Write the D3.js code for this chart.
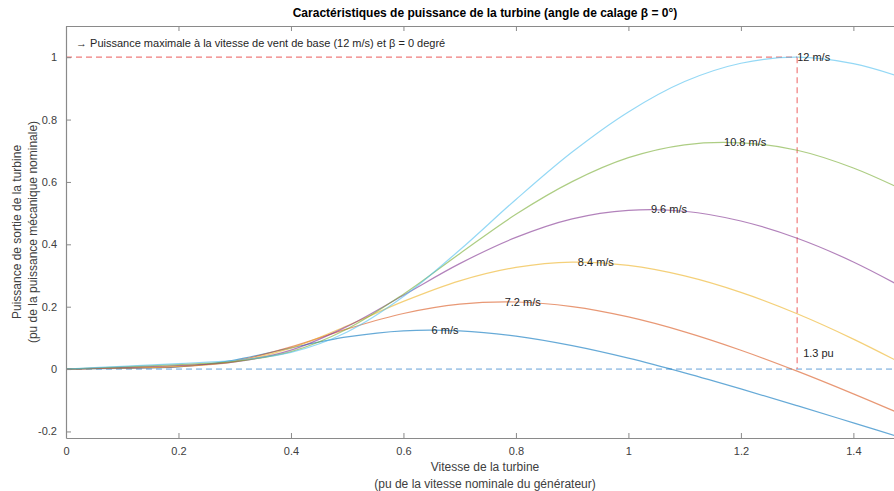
<!DOCTYPE html>
<html>
<head>
<meta charset="utf-8">
<script src="https://cdn.jsdelivr.net/npm/d3@7"></script>
<style>
  body { margin: 0; background: #fff; }
  text { font-family: "Liberation Sans", Arial, sans-serif; }
</style>
</head>
<body>
<script>
// vitesse de la turbine (pu) ou les courbes sont lues
var vitesseTurbine = [0, 0.1, 0.2, 0.3, 0.4, 0.5, 0.6, 0.7, 0.8, 0.9, 1.0, 1.1, 1.2, 1.3, 1.4, 1.5];

// puissance de sortie (pu) pour chaque vitesse de vent
var p6  = [0, 0.0022, 0.0067, 0.0290, 0.0680, 0.1031, 0.1226, 0.1224, 0.1057, 0.0751, 0.0350, -0.0121, -0.0635, -0.1174, -0.1725, -0.2278];
var p72 = [0, 0.0032, 0.0076, 0.0257, 0.0711, 0.1287, 0.1781, 0.2080, 0.2150, 0.2003, 0.1672, 0.1194, 0.0605, -0.0066, -0.0794, -0.1559];
var p84 = [0, 0.0043, 0.0093, 0.0232, 0.0671, 0.1389, 0.2169, 0.2828, 0.3259, 0.3429, 0.3322, 0.2986, 0.2458, 0.1772, 0.0960, 0.0051];
var p96 = [0, 0.0056, 0.0114, 0.0228, 0.0609, 0.1370, 0.2368, 0.3381, 0.4222, 0.4817, 0.5090, 0.5061, 0.4747, 0.4195, 0.3435, 0.2499];
var p108 = [0, 0.0071, 0.0144, 0.0246, 0.0560, 0.1287, 0.2401, 0.3700, 0.4963, 0.6011, 0.6778, 0.7191, 0.7255, 0.7017, 0.6447, 0.5642];
var p12 = [0, 0.0088, 0.0177, 0.0280, 0.0535, 0.1190, 0.2324, 0.3817, 0.5439, 0.6960, 0.8246, 0.9220, 0.9806, 1.0, 0.9792, 0.9271];

var series = [p6, p72, p84, p96, p108, p12];
var ventLabels = ["6 m/s", "7.2 m/s", "8.4 m/s", "9.6 m/s", "10.8 m/s", "12 m/s"];
var picVitesse = [0.65, 0.78, 0.91, 1.04, 1.17, 1.3];
var picPuissance = [0.125, 0.216, 0.343, 0.512, 0.729, 1.0];
var couleurs = ["#0072BD", "#D95319", "#EDB120", "#7E2F8E", "#77AC30", "#4DBEEE"];

var xTicks = [0, 0.2, 0.4, 0.6, 0.8, 1, 1.2, 1.4];
var yTicks = [-0.2, 0, 0.2, 0.4, 0.6, 0.8, 1];

var svgWidth = 894;
var svgHeight = 491;
var margin = { top: 26, left: 66 };
var chartWidth = 838;
var chartHeight = 412;

var svg = d3.select("body")
  .append("svg")
  .attr("width", svgWidth)
  .attr("height", svgHeight);

var chartGroup = svg.append("g")
  .attr("transform", `translate(${margin.left}, ${margin.top})`);

var xScale = d3.scaleLinear().domain([0, 1.49]).range([0, chartWidth]);
var yScale = d3.scaleLinear().domain([-0.221, 1.1]).range([chartHeight, 0]);

chartGroup.append("clipPath").attr("id", "clip")
  .append("rect").attr("width", chartWidth).attr("height", chartHeight);

var plot = chartGroup.append("g").attr("clip-path", "url(#clip)");

// ligne zero
plot.append("line")
  .attr("x1", xScale(0)).attr("x2", xScale(1.49))
  .attr("y1", yScale(0)).attr("y2", yScale(0))
  .attr("stroke", "#4a8fd0").attr("stroke-opacity", 0.85)
  .attr("stroke-dasharray", "6,4").attr("stroke-width", 1);

// lignes rouges de reference
plot.append("line")
  .attr("x1", xScale(0)).attr("x2", xScale(1.3))
  .attr("y1", yScale(1)).attr("y2", yScale(1))
  .attr("stroke", "#f07c7c").attr("stroke-dasharray", "6,4").attr("stroke-width", 1.2);
plot.append("line")
  .attr("x1", xScale(1.3)).attr("x2", xScale(1.3))
  .attr("y1", yScale(1)).attr("y2", yScale(0))
  .attr("stroke", "#f07c7c").attr("stroke-dasharray", "6,4").attr("stroke-width", 1.2);

var drawLine = d3.line()
  .x((d, i) => xScale(vitesseTurbine[i]))
  .y(d => yScale(d))
  .curve(d3.curveCatmullRom.alpha(0.5));

plot.selectAll(".courbe")
  .data(series)
  .enter()
  .append("path")
  .attr("class", "courbe")
  .attr("d", d => drawLine(d))
  .attr("fill", "none")
  .attr("stroke", (d, i) => couleurs[i])
  .attr("stroke-opacity", 0.6)
  .attr("stroke-width", 1.2);

plot.selectAll(".etiquette")
  .data(ventLabels)
  .enter()
  .append("text")
  .attr("class", "etiquette")
  .attr("x", (d, i) => xScale(picVitesse[i]))
  .attr("y", (d, i) => yScale(picPuissance[i]))
  .attr("dy", "0.35em")
  .attr("font-size", 11)
  .attr("fill", "#262626")
  .text(d => d);

plot.append("text")
  .attr("x", xScale(1.3) + 6)
  .attr("y", yScale(0.05))
  .attr("dy", "0.35em")
  .attr("font-size", 11)
  .attr("fill", "#262626")
  .text("1.3 pu");

plot.append("text")
  .attr("x", 10)
  .attr("y", 17)
  .attr("dy", "0.35em")
  .attr("font-size", 11)
  .attr("fill", "#262626")
  .text("\u2192 Puissance maximale \u00e0 la vitesse de vent de base (12 m/s) et \u03b2 = 0 degr\u00e9");

// axes
var tickFmt = d => String(+d.toFixed(2));
var bottomAxis = d3.axisBottom(xScale).tickValues(xTicks).tickSizeInner(-5).tickSizeOuter(0).tickPadding(9).tickFormat(tickFmt);
var topAxis = d3.axisTop(xScale).tickValues(xTicks).tickSizeInner(-5).tickSizeOuter(0).tickFormat("");
var leftAxis = d3.axisLeft(yScale).tickValues(yTicks).tickSizeInner(-5).tickSizeOuter(0).tickPadding(9).tickFormat(tickFmt);

chartGroup.append("g")
  .classed("axis", true)
  .attr("transform", "translate(0, " + chartHeight + ")")
  .call(bottomAxis);
chartGroup.append("g")
  .classed("axis", true)
  .call(topAxis);
chartGroup.append("g")
  .classed("axis", true)
  .call(leftAxis);

chartGroup.selectAll(".axis path, .axis line").attr("stroke", "#8a8a8a");
chartGroup.selectAll(".axis path").attr("stroke-width", 1.2);
chartGroup.selectAll(".axis text")
  .attr("font-size", 11)
  .attr("fill", "#404040")
  .style("font-family", "'Liberation Sans', Arial, sans-serif");

// titres
svg.append("text")
  .attr("x", margin.left + chartWidth / 2)
  .attr("y", 17)
  .attr("text-anchor", "middle")
  .attr("font-size", 12)
  .attr("font-weight", "bold")
  .attr("fill", "#000")
  .text("Caract\u00e9ristiques de puissance de la turbine (angle de calage \u03b2 = 0\u00b0)");

var xLabel = svg.append("text")
  .attr("text-anchor", "middle")
  .attr("font-size", 12)
  .attr("fill", "#404040");
xLabel.append("tspan").attr("x", margin.left + chartWidth / 2).attr("y", 471).text("Vitesse de la turbine");
xLabel.append("tspan").attr("x", margin.left + chartWidth / 2).attr("y", 488).text("(pu de la vitesse nominale du g\u00e9n\u00e9rateur)");

var yLabel = svg.append("text")
  .attr("transform", `translate(0, ${margin.top + chartHeight / 2}) rotate(-90)`)
  .attr("text-anchor", "middle")
  .attr("font-size", 12)
  .attr("fill", "#404040");
yLabel.append("tspan").attr("x", 0).attr("y", 21).text("Puissance de sortie de la turbine");
yLabel.append("tspan").attr("x", 0).attr("y", 37).text("(pu de la puissance m\u00e9canique nominale)");
</script>
</body>
</html>
